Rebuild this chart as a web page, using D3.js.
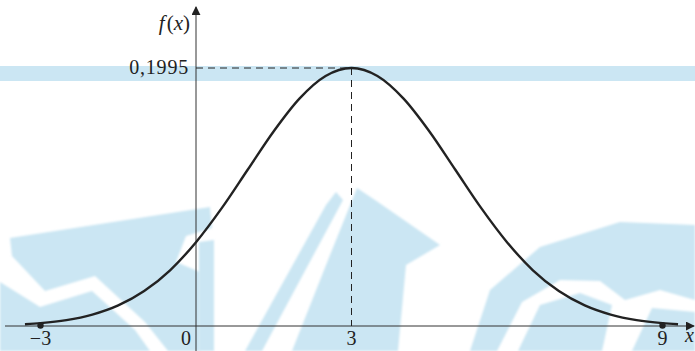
<!DOCTYPE html>
<html>
<head>
<meta charset="utf-8">
<script src="https://cdn.jsdelivr.net/npm/d3@7"></script>
<style>
  body { margin: 0; background: #fff; }
  svg { display: block; }
</style>
</head>
<body>
<script>
const curveX = [-3.3, -3, -2.5, -2, -1.5, -1, -0.5, 0, 0.5, 1, 1.5, 2, 2.5, 3,
  3.5, 4, 4.5, 5, 5.5, 6, 6.5, 7, 7.5, 8, 8.5, 9, 9.3];
const curveY = [0.0014, 0.0022, 0.0045, 0.0088, 0.0159, 0.0270, 0.0431, 0.0648, 0.0913, 0.1210,
  0.1506, 0.1760, 0.1933, 0.1995, 0.1933, 0.1760, 0.1506, 0.1210, 0.0913, 0.0648, 0.0431,
  0.0270, 0.0159, 0.0088, 0.0045, 0.0022, 0.0014];
const tickValues = [-3, 0, 3, 9];
const tickLabels = ['\u22123', '0', '3', '9'];
const markedPoints = [-3, 9];
const peakX = 3;
const peakY = 0.1995;
const peakLabel = '0,1995';

let width = 695;
let height = 351;
let serif = 'Liberation Serif';

let svg = d3.select('body').append('svg')
            .attr('width', width)
            .attr('height', height);

// scales: -3 and 9 are the outer ticks
let x = d3.scaleLinear().domain([-3, 9]).range([40.5, 662.5]);
let y = d3.scaleLinear().domain([0, peakY]).range([326, 68]);

let defs = svg.append('defs');
defs.append('filter')
    .attr('id', 'soft')
    .append('feGaussianBlur')
    .attr('stdDeviation', 1.2);

// faint blue watermark in the background
let wm = svg.append('g').attr('fill', '#cbe6f3');
wm.append('rect').attr('x', 0).attr('y', 66).attr('width', width).attr('height', 15);
let shapes = [
  [[10, 238], [210, 207], [212, 228], [186, 236], [176, 262], [200, 272], [200, 351], [168, 351],
    [145, 322], [95, 276], [45, 291], [12, 256]],
  [[0, 282], [40, 307], [92, 291], [135, 330], [150, 351], [0, 351]],
  [[199, 242], [214, 240], [214, 351], [199, 351]],
  [[245, 351], [326, 205], [336, 192], [343, 200], [262, 351]],
  [[357, 188], [375, 200], [440, 245], [406, 265], [398, 351], [292, 351], [330, 255]],
  [[470, 351], [490, 290], [540, 247], [620, 222], [695, 225], [695, 300], [660, 290], [625, 300],
    [600, 281], [560, 280], [522, 302], [497, 351]],
  [[518, 351], [540, 305], [580, 293], [612, 305], [602, 351]],
  [[632, 351], [652, 308], [695, 312], [695, 351]],
];
wm.selectAll('path.wm')
  .data(shapes)
  .enter()
  .append('path')
  .attr('class', 'wm')
  .attr('filter', 'url(#soft)')
  .attr('d', (d) => d3.line()(d) + 'Z');

// arrow marker for axes
defs.append('marker')
    .attr('id', 'arrow')
    .attr('viewBox', '0 0 10 10')
    .attr('refX', 9).attr('refY', 5)
    .attr('markerWidth', 9).attr('markerHeight', 9)
    .attr('markerUnits', 'userSpaceOnUse')
    .attr('orient', 'auto')
    .append('path')
    .attr('d', 'M0,0 L10,5 L0,10 Z')
    .attr('fill', '#222');

let axes = svg.append('g').attr('stroke', '#333').attr('stroke-width', 1);
axes.append('line')
    .attr('x1', 5).attr('x2', 694)
    .attr('y1', y(0)).attr('y2', y(0))
    .attr('marker-end', 'url(#arrow)');
axes.append('line')
    .attr('x1', x(0)).attr('x2', x(0))
    .attr('y1', height).attr('y2', 7)
    .attr('marker-end', 'url(#arrow)');

// dashed guides to the maximum
let guides = svg.append('g')
                .attr('stroke', '#222')
                .attr('stroke-width', 1)
                .attr('stroke-dasharray', '7,5');
guides.append('line')
      .attr('x1', x(0)).attr('x2', x(peakX))
      .attr('y1', y(peakY)).attr('y2', y(peakY));
guides.append('line')
      .attr('x1', x(peakX)).attr('x2', x(peakX))
      .attr('y1', y(peakY)).attr('y2', y(0));

// density curve
let line = d3.line()
             .x((d, i) => x(curveX[i]))
             .y((d) => y(d))
             .curve(d3.curveMonotoneX);
svg.append('path')
   .datum(curveY)
   .attr('d', line)
   .attr('fill', 'none')
   .attr('stroke', '#222')
   .attr('stroke-width', 2.4);

svg.selectAll('circle.pt')
   .data(markedPoints)
   .enter()
   .append('circle')
   .attr('class', 'pt')
   .attr('cx', (d) => x(d))
   .attr('cy', y(0) - 0.5)
   .attr('r', 3.2)
   .attr('fill', '#222');

// tick labels
svg.selectAll('text.tick')
   .data(tickValues)
   .enter()
   .append('text')
   .attr('class', 'tick')
   .attr('x', (d) => d === 0 ? x(d) - 10 : x(d))
   .attr('y', 345)
   .attr('text-anchor', 'middle')
   .attr('font-family', serif)
   .attr('font-size', 20)
   .attr('fill', '#222')
   .text((d, i) => tickLabels[i]);

svg.append('text')
   .attr('x', x(0) - 7)
   .attr('y', y(peakY) + 6)
   .attr('text-anchor', 'end')
   .attr('font-family', serif)
   .attr('font-size', 20)
   .attr('letter-spacing', 0.8)
   .attr('fill', '#222')
   .text(peakLabel);

// axis names
svg.append('text')
   .attr('x', 685)
   .attr('y', 342)
   .attr('font-family', serif)
   .attr('font-size', 20)
   .attr('font-style', 'italic')
   .attr('fill', '#222')
   .text('x');

let fx = svg.append('text')
            .attr('x', x(0) - 6)
            .attr('y', 30)
            .attr('text-anchor', 'end')
            .attr('font-family', serif)
            .attr('font-size', 21)
            .attr('fill', '#222');
fx.append('tspan').attr('font-style', 'italic').text('f');
fx.append('tspan').attr('dx', 2).text('(');
fx.append('tspan').attr('font-style', 'italic').text('x');
fx.append('tspan').text(')');
</script>
</body>
</html>
